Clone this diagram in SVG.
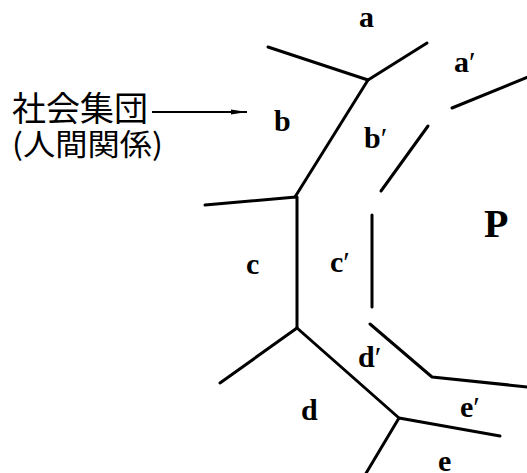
<svg xmlns="http://www.w3.org/2000/svg" width="527" height="473" viewBox="0 0 527 473">
<defs>
<style>
.ln{fill:none;stroke:#000;stroke-width:3;stroke-linecap:round;stroke-linejoin:round}
.lb{font-family:"Liberation Serif","DejaVu Serif",serif;font-size:30px;font-weight:bold;fill:#000}
.pr{font-weight:normal}
.jp{font-family:"Noto Sans CJK JP","Noto Sans CJK SC",sans-serif;fill:#000}
</style>
<marker id="ah" viewBox="0 0 16 6" refX="16" refY="3" markerWidth="16" markerHeight="6" markerUnits="userSpaceOnUse" orient="auto">
<path d="M0,0.5 L16,3 L0,5.5 Z" fill="#000"/>
</marker>
</defs>
<rect width="527" height="473" fill="#fff"/>
<g id="boundaries">
<polyline class="ln" points="268,47 368,80 427,43"/>
<line class="ln" x1="368" y1="80" x2="295" y2="197"/>
<line class="ln" x1="205" y1="205" x2="296" y2="197"/>
<line class="ln" x1="297" y1="197" x2="297" y2="328"/>
<line class="ln" x1="297" y1="328" x2="220" y2="383"/>
<polyline class="ln" points="297,328 399,418 500,436"/>
<line class="ln" x1="399" y1="418" x2="365" y2="475"/>
<line class="ln" x1="452" y1="108" x2="528" y2="77"/>
<line class="ln" x1="428" y1="126" x2="381" y2="191"/>
<line class="ln" x1="372" y1="215" x2="372" y2="307"/>
<polyline class="ln" points="370,324 432,377 528,387"/>
</g>
<g id="annotation">
<text class="jp" x="12" y="121" font-size="34">社会集団</text>
<text class="jp" x="12" y="155" font-size="30" textLength="151" lengthAdjust="spacingAndGlyphs">(人間関係)</text>
<line x1="152" y1="112" x2="247" y2="112" stroke="#000" stroke-width="1.8" marker-end="url(#ah)"/>
</g>
<g id="labels">
<text class="lb" x="359" y="27">a</text>
<text class="lb" x="454" y="72">a<tspan class="pr">′</tspan></text>
<text class="lb" x="274" y="131">b</text>
<text class="lb" x="364" y="148">b<tspan class="pr">′</tspan></text>
<text class="lb" x="246" y="274">c</text>
<text class="lb" x="330" y="272">c<tspan class="pr">′</tspan></text>
<text class="lb" x="301" y="420">d</text>
<text class="lb" x="358" y="367">d<tspan class="pr">′</tspan></text>
<text class="lb" x="460" y="417">e<tspan class="pr">′</tspan></text>
<text class="lb" x="438" y="471">e</text>
<text x="484" y="237" font-family="'Liberation Serif','DejaVu Serif',serif" font-size="40" font-weight="bold" fill="#000">P</text>
</g>
</svg>
